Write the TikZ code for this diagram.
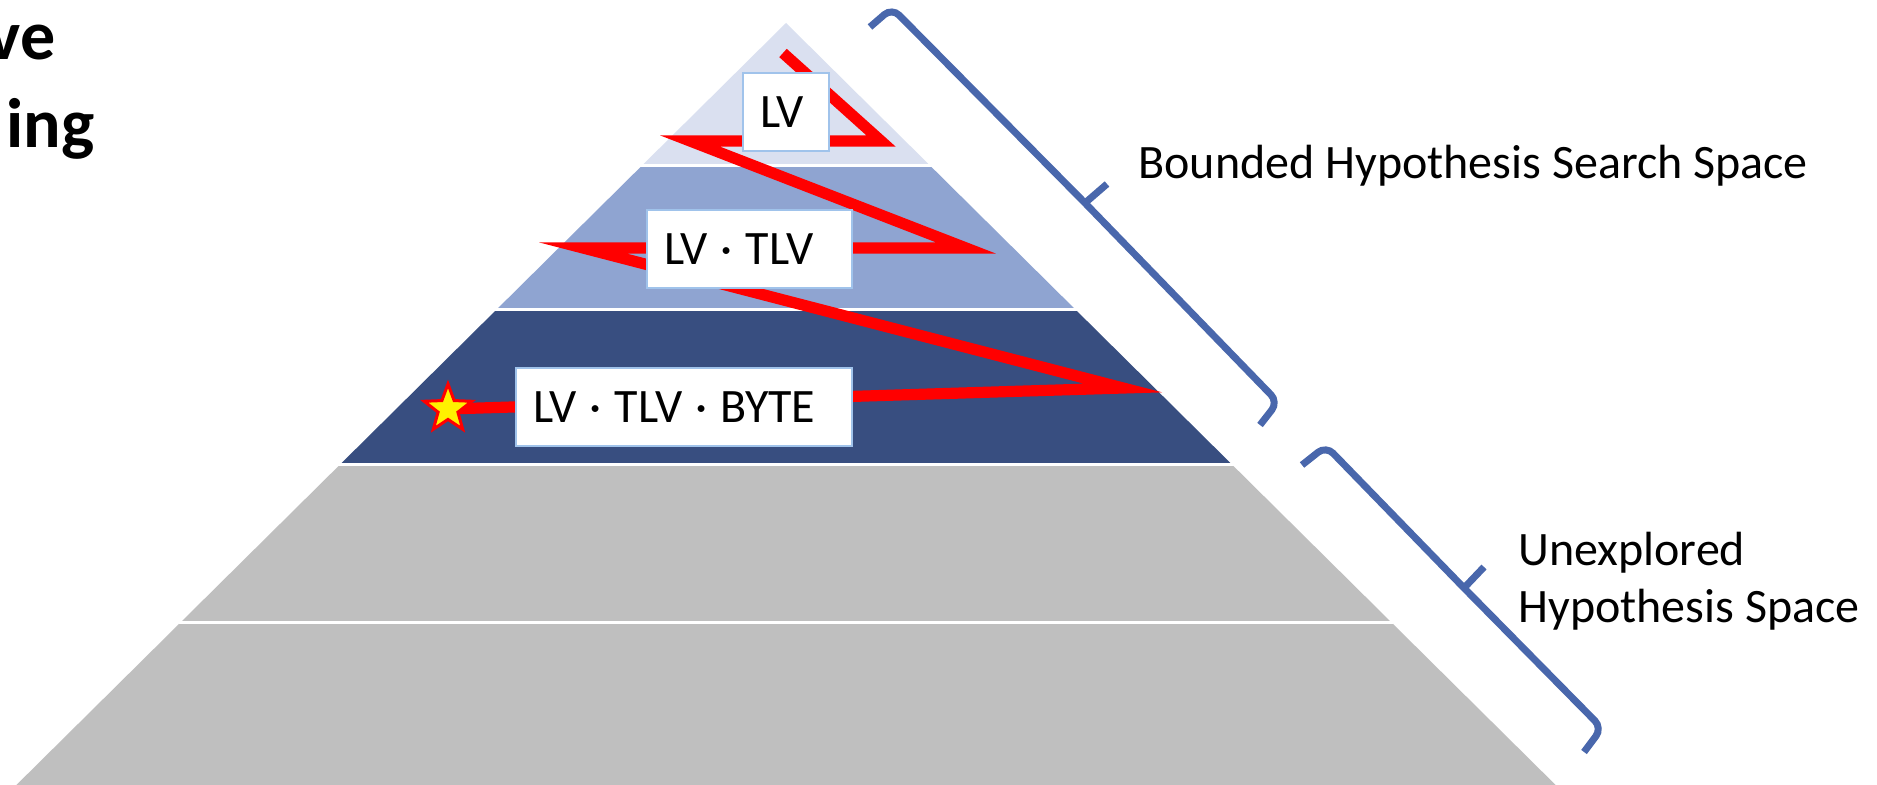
\documentclass[tikz,border=0pt]{standalone}
\usepackage{fontspec}
\setmainfont{Carlito}
\usetikzlibrary{shapes.geometric}
\definecolor{tierA}{RGB}{218,224,240}
\definecolor{tierB}{RGB}{143,164,209}
\definecolor{tierC}{RGB}{56,78,128}
\definecolor{tierD}{RGB}{191,191,191}
\definecolor{braceblue}{RGB}{73,103,172}
\definecolor{boxblue}{RGB}{160,195,235}
\newcommand{\sepdot}{\makebox[19pt]{·}}

\begin{document}
\begin{tikzpicture}[x=0.5pt, y=-0.5pt,
    lvbox/.style={draw=boxblue, fill=white, line width=1pt, align=left, anchor=north west,
      inner xsep=8.5pt, inner ysep=0pt, minimum height=39pt, font=\fontsize{24}{28}\selectfont},
    brace/.style={draw=braceblue, line width=3.5pt, rounded corners=5pt},
    zig/.style={draw=red, line width=5.6pt},
    lbl/.style={font=\fontsize{24}{28.5}\selectfont, inner sep=0pt, align=left, anchor=base west},
    ttl/.style={font=\fontsize{35}{44}\selectfont\bfseries, inner sep=0pt, anchor=base east},
    goalstar/.style={star, star points=5, star point ratio=2.4, fill=yellow, draw=red,
      line width=1.5pt, minimum size=25pt, inner sep=0pt},
  ]
  \fill[white] (0,0) rectangle (1877,785);
  \useasboundingbox (0,0) rectangle (1877,785);

  % pyramid tiers
  \foreach \ya/\yb/\tc in {23/166/tierA,166/310/tierB,310/465/tierC,465/622/tierD,622/800/tierD}{
    \fill[\tc] ({786-1.01*(\ya-23)},\ya) -- ({786+1.01*(\ya-23)},\ya)
      -- ({786+1.01*(\yb-23)},\yb) -- ({786-1.01*(\yb-23)},\yb) -- cycle;
  }
  \foreach \yb in {166,310,465,622}
    \draw[white, line width=1.5pt] ({784-1.01*(\yb-23)},\yb) -- ({788+1.01*(\yb-23)},\yb);

  % search path
  \coordinate (z1) at (783,53);
  \coordinate (z2) at (881,141);
  \coordinate (z3) at (690,141);
  \coordinate (z4) at (966,248);
  \coordinate (z5) at (583,248);
  \coordinate (z6) at (1123,388);
  \coordinate (zgoal) at (448,409);
  \draw[zig] (z1) -- (z2) -- (z3) -- (z4) -- (z5) -- (z6) -- (zgoal);

  \node[lvbox, text width=26pt] (lv) at (742,72) {LV};
  \node[lvbox, text width=85.5pt] (lvtlv) at (646,209) {LV\sepdot TLV};
  \node[lvbox, text width=151pt] (lvbyte) at (515,367) {LV\sepdot TLV\sepdot BYTE};
  \node[goalstar] (goal) at (zgoal) {};

  % braces
  \draw[brace] (870,27) -- (892,8) -- (1085,203) -- (1278,402) -- (1260,425);
  \draw[brace] (1085,203) -- (1107,184);
  \draw[brace] (1302,465) -- (1326,446) -- (1464,588) -- (1602,728) -- (1584,752);
  \draw[brace] (1464,588) -- (1484,567);

  \node[lbl] (bounded) at (1138,179) {Bounded Hypothesis Search Space};
  \node[lbl] (unexpl) at (1518,622) {Unexplored\\Hypothesis Space};

  \node[ttl] (ttla) at (56,60) {ve};
  \node[ttl] (ttlb) at (95,148) {ing};
\end{tikzpicture}
\end{document}
